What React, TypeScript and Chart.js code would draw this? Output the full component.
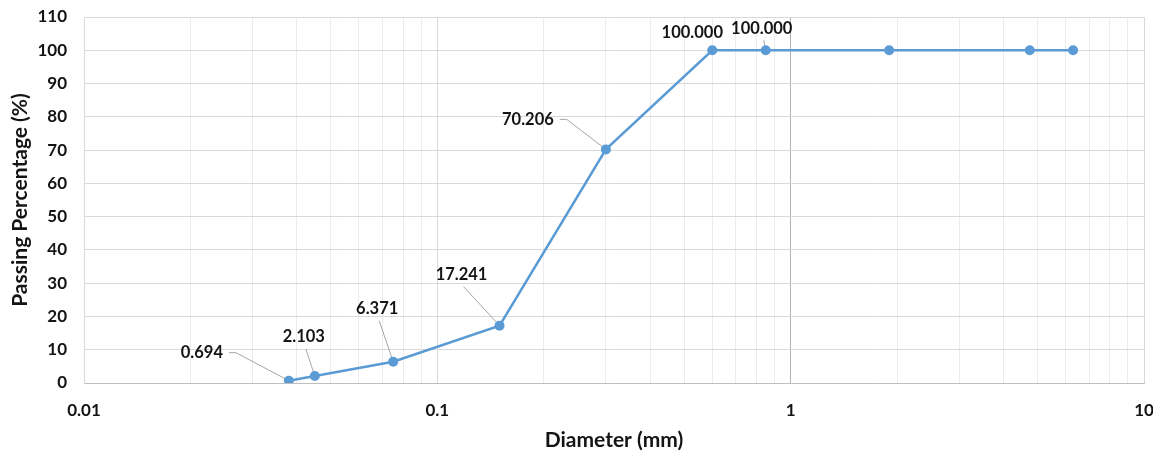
import React, { useEffect, useRef } from "react";
import { Chart, registerables } from "chart.js";

Chart.register(...registerables);

// ---- data ----
const diameters = [0.038, 0.045, 0.075, 0.15, 0.3, 0.6, 0.85, 1.9, 4.75, 6.3];
const passing = [0.694, 2.103, 6.371, 17.241, 70.206, 100, 100, 100, 100, 100];
const labelledIndices = [0, 1, 2, 3, 4, 5, 6];
const xDecades = [0.01, 0.1, 1, 10];
const xTickLabels = ["0.01", "0.1", "1", "10"];
const yMin = 0;
const yMax = 110;
const yStep = 10;

// ---- label layout (offset of label centre from its point, leader style) ----
const labelDx = [-87, -11, -16, -38, -78, -20, -4];
const labelDy = [-28, -39, -53, -51, -30, -18, -22];
const leaderKind = ["side", "below", "below", "below", "side", "none", "below"];

const FONT = "Lato, 'Open Sans', sans-serif";
const BLUE = "#5B9BD5";
const TEXT = "#141414";

function buildXTicks() {
  const out: { value: number; label: string }[] = [];
  xDecades.forEach((d, i) => {
    out.push({ value: d, label: xTickLabels[i] });
    if (i < xDecades.length - 1) {
      for (let m = 2; m <= 9; m++) out.push({ value: +(d * m).toPrecision(3), label: "" });
    }
  });
  return out;
}
const xTicks = buildXTicks();

const labelFont = `bold 16.5px ${FONT}`;

const labelPlugin = {
  id: "leaderLabels",
  beforeDatasetsDraw(chart: any) {
    const meta = chart.getDatasetMeta(0);
    const ctx = chart.ctx as CanvasRenderingContext2D;
    ctx.save();
    ctx.font = labelFont;
    ctx.strokeStyle = "#a6a6a6";
    ctx.lineWidth = 1;
    labelledIndices.forEach((idx, k) => {
      const el = meta.data[idx];
      if (!el) return;
      const cx = el.x + labelDx[k];
      const cy = el.y + labelDy[k];
      const w = ctx.measureText(passing[idx].toFixed(3)).width;
      const kind = leaderKind[k];
      ctx.beginPath();
      if (kind === "side") {
        ctx.moveTo(cx + w / 2 + 6, cy);
        ctx.lineTo(cx + w / 2 + 13, cy);
        ctx.lineTo(el.x, el.y);
      } else if (kind === "below") {
        ctx.moveTo(cx + 2, cy + 12);
        ctx.lineTo(el.x, el.y);
      }
      ctx.stroke();
    });
    ctx.restore();
  },
  afterDatasetsDraw(chart: any) {
    const meta = chart.getDatasetMeta(0);
    const ctx = chart.ctx as CanvasRenderingContext2D;
    ctx.save();
    ctx.font = labelFont;
    ctx.fillStyle = TEXT;
    ctx.textAlign = "center";
    ctx.textBaseline = "middle";
    labelledIndices.forEach((idx, k) => {
      const el = meta.data[idx];
      if (!el) return;
      ctx.fillText(passing[idx].toFixed(3), el.x + labelDx[k], el.y + labelDy[k]);
    });
    ctx.restore();
  },
};

export default function App() {
  const ref = useRef<HTMLCanvasElement | null>(null);
  useEffect(() => {
    document.documentElement.style.overflow = "hidden";
    document.body.style.overflow = "hidden";
    if (!ref.current) return;
    const chart = new Chart(ref.current, {
      type: "line",
      data: {
        datasets: [
          {
            data: diameters.map((d, i) => ({ x: d, y: passing[i] })),
            borderColor: BLUE,
            backgroundColor: BLUE,
            borderWidth: 2.5,
            pointRadius: 5,
            pointBackgroundColor: BLUE,
            pointBorderColor: BLUE,
            pointBorderWidth: 0,
            tension: 0,
          },
        ],
      },
      options: {
        animation: false,
        responsive: true,
        maintainAspectRatio: false,
        layout: { padding: { top: 9, right: 9, left: 0, bottom: 0 } },
        plugins: { legend: { display: false }, tooltip: { enabled: false } },
        scales: {
          x: {
            type: "logarithmic",
            min: 0.01,
            max: 10,
            afterBuildTicks: (scale: any) => {
              scale.ticks = xTicks.map((t) => ({ value: t.value }));
            },
            afterFit: (scale: any) => {
              scale.height = 69;
              scale.paddingLeft = 0;
              scale.paddingRight = 0;
            },
            ticks: {
              autoSkip: false,
              maxRotation: 0,
              padding: 17,
              color: TEXT,
              font: { family: FONT, size: 17, weight: "bold" },
              callback: (_v: any, i: number) => (xTicks[i] ? xTicks[i].label : ""),
            },
            grid: {
              drawTicks: false,
              lineWidth: 1,
              color: (c: any) => {
                const v = c.tick ? c.tick.value : 0;
                if (Math.abs(v - 1) < 1e-9) return "#b3b3b3";
                if (xDecades.some((d) => Math.abs(v - d) < 1e-9)) return "#d9d9d9";
                return "#ececec";
              },
            },
            border: { display: true, color: "#bfbfbf", width: 1 },
            title: {
              display: true,
              text: "Diameter (mm)",
              color: TEXT,
              font: { family: FONT, size: 21, weight: "bold", lineHeight: 1 },
              padding: { top: 0, bottom: 1.5 },
            },
          },
          y: {
            type: "linear",
            min: yMin,
            max: yMax,
            afterFit: (scale: any) => {
              scale.width = 76;
              scale.paddingTop = 0;
              scale.paddingBottom = 0;
            },
            ticks: {
              stepSize: yStep,
              padding: 17,
              color: TEXT,
              font: { family: FONT, size: 17, weight: "bold" },
            },
            grid: { drawTicks: false, color: "#d9d9d9", lineWidth: 1 },
            border: { display: true, color: "#d9d9d9", width: 1 },
            title: {
              display: true,
              text: "Passing Percentage (%)",
              color: TEXT,
              font: { family: FONT, size: 21, weight: "bold", lineHeight: 1 },
              padding: { top: 1.5, bottom: 0 },
            },
          },
        },
      },
      plugins: [labelPlugin],
    } as any);
    return () => chart.destroy();
  }, []);
  return (
    <div style={{ width: 1145, height: 444, position: "relative" }}>
      <canvas ref={ref} />
    </div>
  );
}
